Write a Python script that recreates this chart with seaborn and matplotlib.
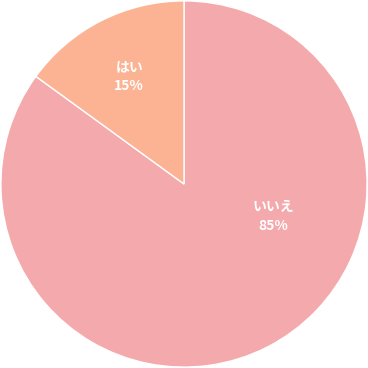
import matplotlib
matplotlib.use("Agg")
import matplotlib.pyplot as plt
import seaborn as sns
import numpy as np

sns.set_theme(style="white")
plt.rcParams['font.family'] = ['Noto Sans CJK JP', 'DejaVu Sans']

labels = ["いいえ", "はい"]
values = [85, 15]
colors = ["#F4A9AD", "#FBB393"]
# label placement (radius fraction, angle in degrees)
label_pos = [(0.52, -20), (0.66, 117)]

fig = plt.figure(figsize=(3.68, 3.68), dpi=100)
ax = fig.add_axes([0, 0, 1, 1])
wedges, _ = ax.pie(values, colors=colors, startangle=90, counterclock=False,
                   radius=1.0, wedgeprops=dict(edgecolor="white", linewidth=1))
for lab, v, (r, a) in zip(labels, values, label_pos):
    x = r * np.cos(np.radians(a))
    y = r * np.sin(np.radians(a))
    ax.text(x, y, f"{lab}\n{v}%", ha="center", va="center", color="white",
            fontsize=10, fontweight="bold", linespacing=1.45)
ax.set_xlim(-1.005, 1.005)
ax.set_ylim(-1.005, 1.005)
ax.set_aspect("equal")
ax.axis("off")
fig.savefig("out.png", dpi=100, facecolor="white")
